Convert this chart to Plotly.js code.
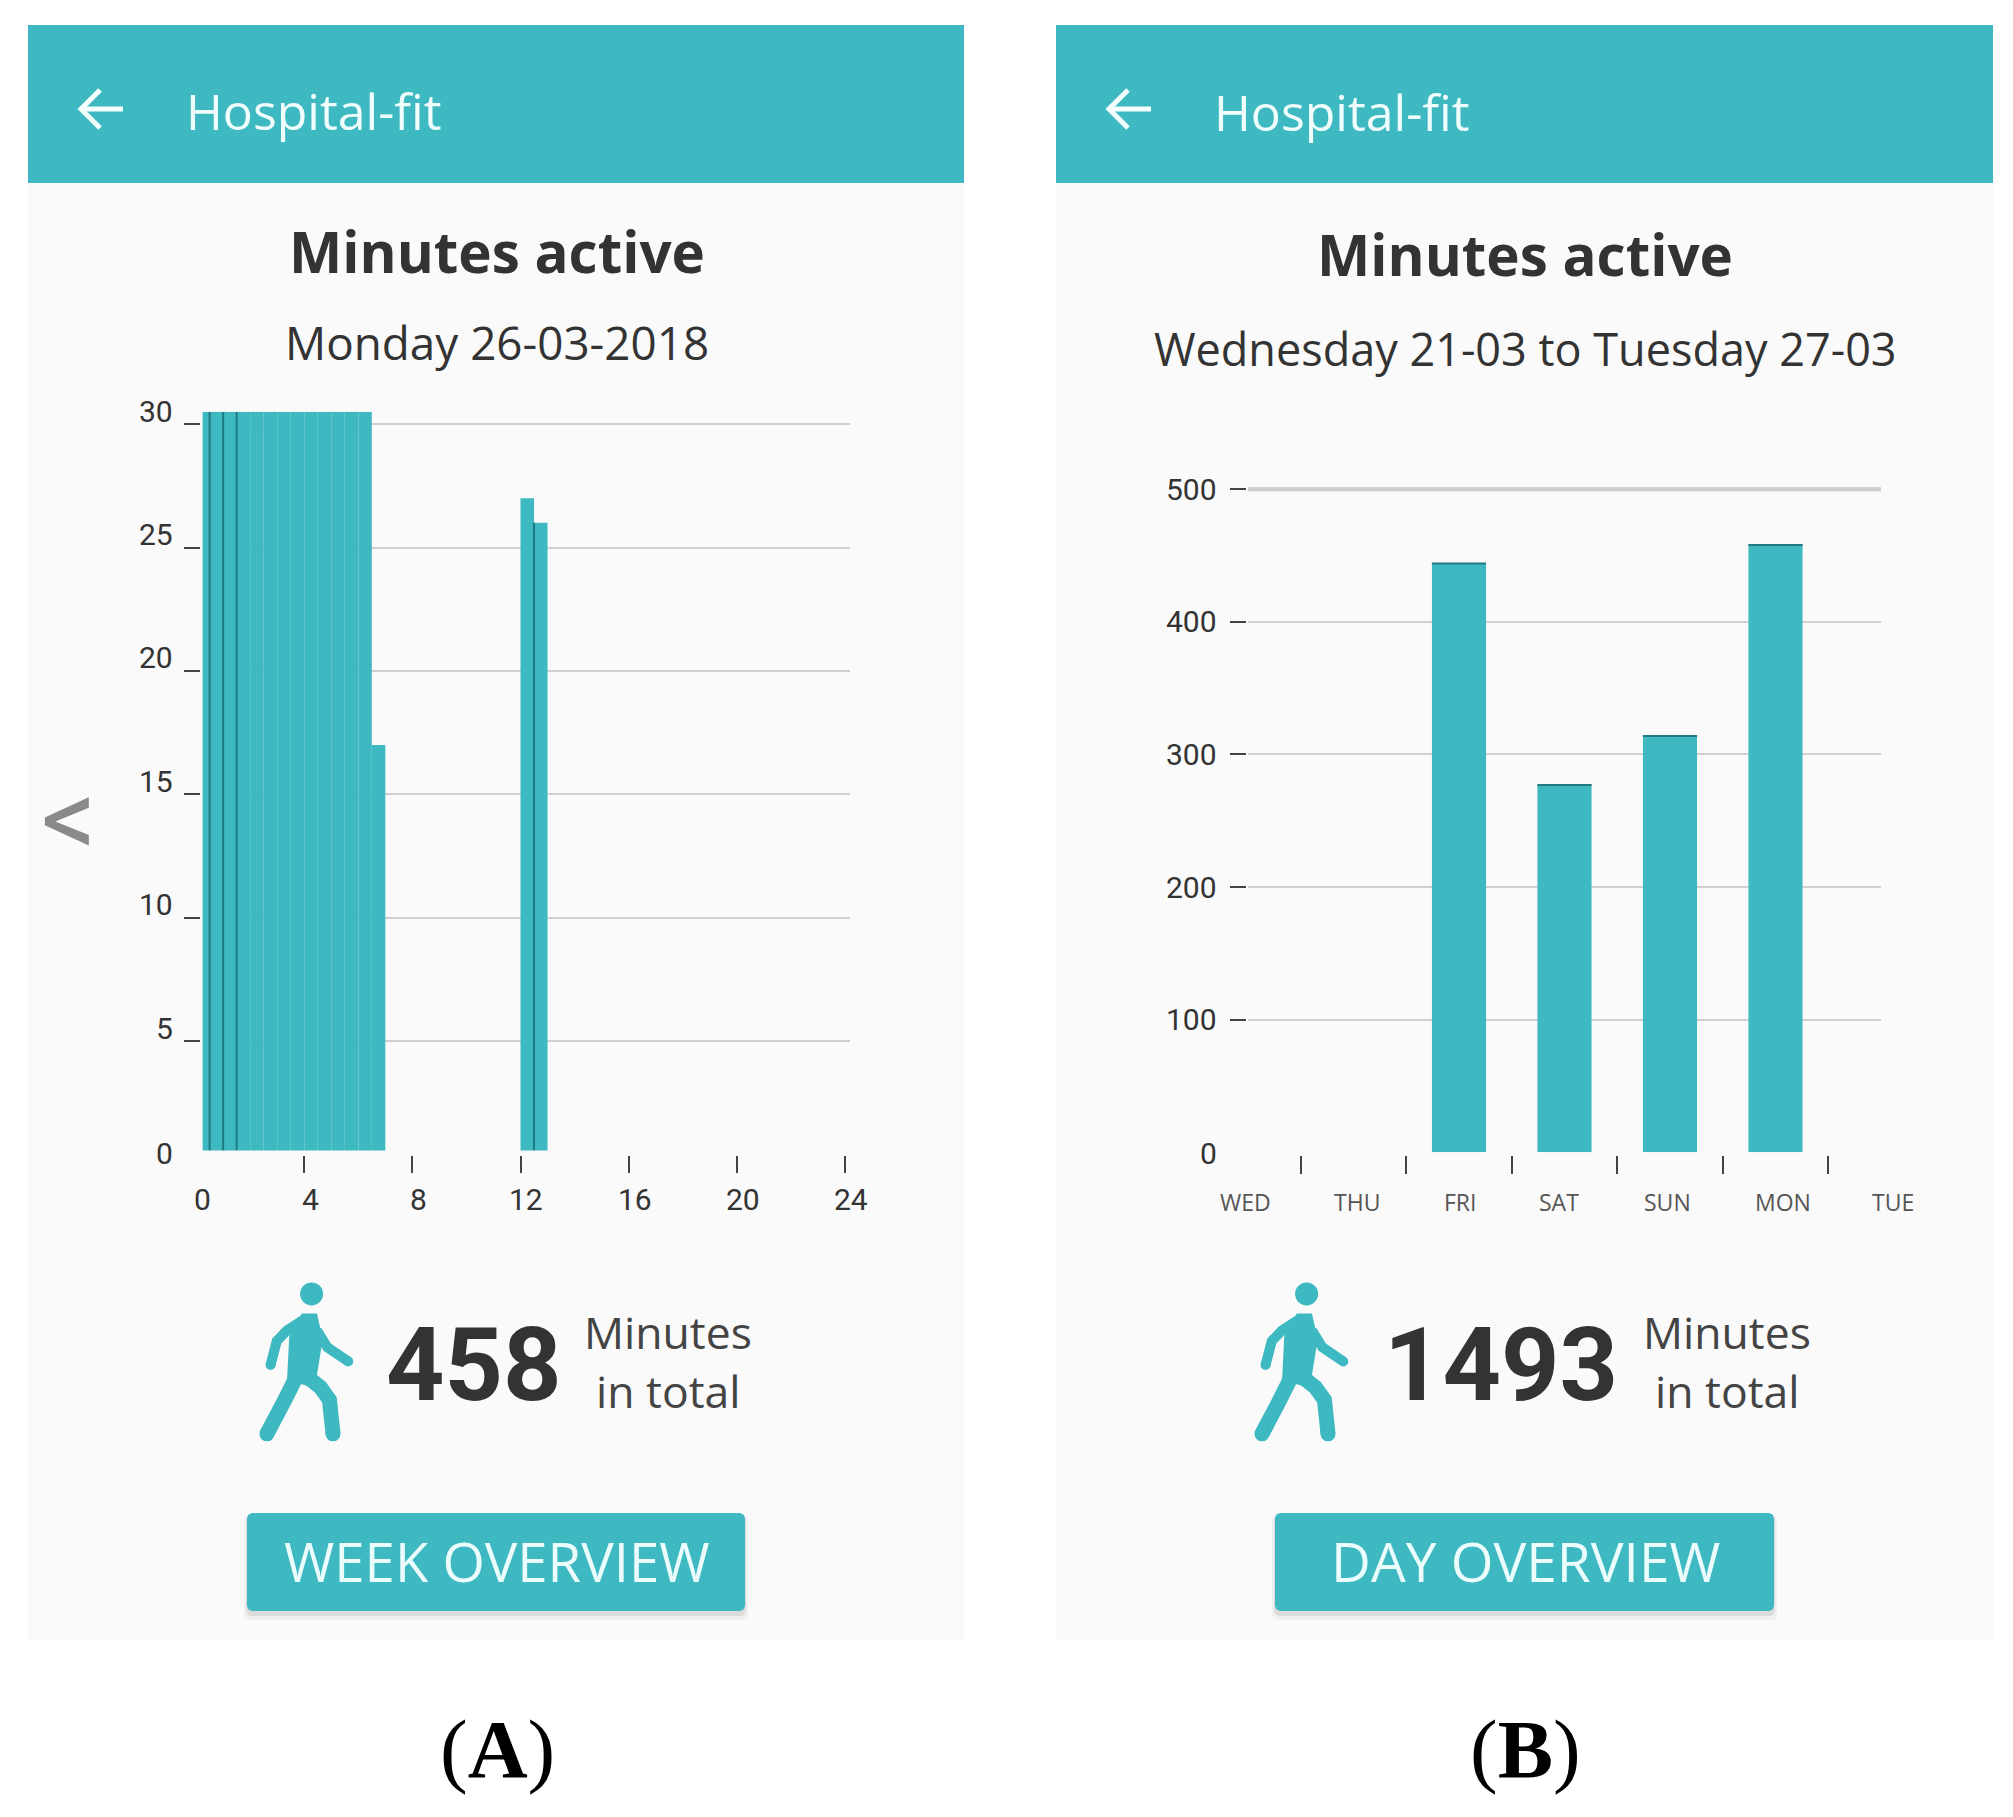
<!DOCTYPE html>
<html><head><meta charset="utf-8">
<script src="https://cdn.plot.ly/plotly-3.0.1.min.js"></script>
<style>html,body{margin:0;padding:0;background:#fff}#c{width:2013px;height:1817px}</style>
</head><body><div id="c"></div>
<script>
// ---- data ----
const hourBins = [0.25,0.75,1.25,1.75,2.25,2.75,3.25,3.75,4.25,4.75,5.25,5.75,6.25,6.75,12.25,12.75];
const minutesPerBin = [30.5,30.5,30.5,30.5,30.5,30.5,30.5,30.5,30.5,30.5,30.5,30.5,30.5,17,27,26];
const binSeams = [0.5,1,1.5,12.5];
const hourTicks = [0,4,8,12,16,20,24];
const minuteTicks = [5,10,15,20,25,30];
const days = ['WED','THU','FRI','SAT','SUN','MON','TUE'];
const dayMinutes = [0,0,444,277,314,458,0];
const weekTicks = [100,200,300,400,500];

// ---- layout constants ----
const W=2013,H=1817, TEAL='#3eb8c1', SEAM='#1f7a82', INK='#333333';
const X=p=>p/W, Y=p=>1-p/H;
const FONT='"Open Sans"', NUM='Roboto';
const A={l:202.6,r:849.5,t:411.8,b:1150.6,xr:[0.24,24.17],yr:[0.56,30.5]};
const B={l:1248,r:1881,t:476,b:1152.3,xr:[0,6],yr:[0,510]};
const ax=v=>A.l+(v-A.xr[0])*(A.r-A.l)/(A.xr[1]-A.xr[0]);
const ay=v=>A.b-(v-A.yr[0])*(A.b-A.t)/(A.yr[1]-A.yr[0]);
const dayLabelX=[1245,1356.5,1460,1559,1667,1783,1893];

const shapes=[], ann=[];
const rect=(x0,y0,x1,y1,c)=>shapes.push({type:'rect',xref:'paper',yref:'paper',x0:X(x0),x1:X(x1),y0:Y(y0),y1:Y(y1),fillcolor:c,line:{width:0},layer:'below'});
const poly=(pts,opt)=>{const d=pts.map((p,i)=>(i?'L':'M')+X(p[0])+' '+Y(p[1])).join(' ')+(opt.close?' Z':'');
  shapes.push({type:'path',xref:'paper',yref:'paper',path:d,fillcolor:opt.fill||'rgba(0,0,0,0)',line:{color:opt.color||'rgba(0,0,0,0)',width:opt.width||0},layer:opt.layer||'below'});};
const dot=(x,y,r,c)=>shapes.push({type:'circle',xref:'paper',yref:'paper',x0:X(x-r),x1:X(x+r),y0:Y(y+r),y1:Y(y-r),fillcolor:c,line:{width:0},layer:'below'});
const txt=(x,y,t,size,color,family,o)=>ann.push(Object.assign({xref:'paper',yref:'paper',x:X(x),y:Y(y),text:t,showarrow:false,xanchor:'center',yanchor:'middle',font:{size:size,color:color,family:family}},o||{}));
const chamfer=(l,t,r,b,c)=>[[l+c,t],[r-c,t],[r-c*0.3,t+c*0.3],[r,t+c],[r,b-c],[r-c*0.3,b-c*0.3],[r-c,b],[l+c,b],[l+c*0.3,b-c*0.3],[l,b-c],[l,t+c],[l+c*0.3,t+c*0.3]];

function person(dx){
  const P=(x,y)=>[200+x*0.4464+dx,1250+y*0.357];
  const c=P(250,123); dot(c[0],c[1],11.5,TEAL);
  poly([P(228,178),P(262,178),P(275,250),P(262,350),P(240,380),P(195,365),P(200,240)],{fill:TEAL,close:true});
  [[[P(232,195),P(195,225),P(172,255),P(158,322)],10],[[P(262,225),P(285,272),P(332,312)],10],
   [[P(218,350),P(190,420),P(150,515)],15],[[P(235,350),P(270,385),P(290,420),P(298,515)],15]].forEach(([pts,w])=>{
     poly(pts,{color:TEAL,width:w}); const e=pts[pts.length-1]; dot(e[0],e[1],w/2,TEAL);});
}
function panel(o){
  rect(o.l,25,o.r,1640,'#fafafa');
  rect(o.l,25,o.r,183,TEAL);
  const a=o.arrow;
  poly([[a,109],[a+42,109]],{color:'#f4ffff',width:5});
  poly([[a+19,90],[a,109],[a+19,128]],{color:'#f4ffff',width:5});
  txt(o.appX,o.appY,'Hospital-fit',50,'#f0fdfd',FONT);
  txt(o.mid,o.titleY,'<b>Minutes active</b>',56.5,INK,FONT);
  txt(o.mid,o.subY,o.sub,o.subSize,INK,FONT);
  person(o.personDx);
  txt(o.numX,1365,'<b>'+o.num+'</b>',102,INK,NUM);
  txt(o.wordX,1331.5,'Minutes',44.5,'#444',FONT);
  txt(o.wordX,1390.5,'in total',44.5,'#444',FONT);
  poly(chamfer(o.bl-3,1515,o.br+3,1620,5),{fill:'rgba(120,120,120,0.07)',close:true});
  poly(chamfer(o.bl-1,1515,o.br+1,1616,5),{fill:'rgba(120,120,120,0.16)',close:true});
  poly(chamfer(o.bl,1513,o.br,1611,5),{fill:TEAL,close:true});
  txt(o.mid,1560.5,o.btn,o.btnSize,'#eafcfc',FONT);
  txt(o.mid,1749,'(<b>'+o.letter+'</b>)',83,'#000','"Liberation Serif"');
}
panel({l:28,r:964,mid:497,arrow:81,appX:314,appY:111,titleY:251.5,sub:'Monday 26-03-2018',subY:342,subSize:45.8,personDx:0,
  num:'458',numX:474,wordX:668,btn:'WEEK OVERVIEW',btnSize:54.5,bl:247,br:745,letter:'A'});
panel({l:1056,r:1993,mid:1525,arrow:1109,appX:1342,appY:112,titleY:254.5,sub:'Wednesday 21-03 to Tuesday 27-03',subY:348,subSize:45,personDx:995,
  num:'1493',numX:1501,wordX:1727,btn:'DAY OVERVIEW',btnSize:55,bl:1275,br:1774,letter:'B'});

// "<" pager
txt(68.5,818,'<',110,'#8a8a8a',NUM);

// panel A tick labels
hourTicks.forEach(h=>txt(ax(h)+5.9,1199.5,String(h),30,INK,NUM));
minuteTicks.forEach(m=>txt(174.5,ay(m)-13,String(m),30,INK,NUM,{xanchor:'right'}));
txt(174.5,1153,'0',30,INK,NUM,{xanchor:'right'});
// panel B tick labels
days.forEach((d,i)=>txt(dayLabelX[i],1201.5,d,23,'#555',FONT));
weekTicks.forEach(v=>txt(1219,B.b-(v/B.yr[1])*(B.b-B.t),String(v),30,INK,NUM,{xanchor:'right'}));
txt(1219,1153,'0',30,INK,NUM,{xanchor:'right'});

// seams between bins, and top edges of the day bars, in data coordinates
binSeams.forEach(s=>{const i=hourBins.findIndex(h=>h>s);
  shapes.push({type:'line',xref:'x',yref:'y',x0:s,x1:s,y0:A.yr[0],y1:Math.min(minutesPerBin[i],minutesPerBin[i-1]),line:{color:SEAM,width:2}});});
dayMinutes.forEach((v,i)=>{if(v>0)shapes.push({type:'line',xref:'x2',yref:'y2',x0:i-0.257,x1:i+0.257,y0:v,y1:v,line:{color:SEAM,width:2}});});
// heavier top gridline of the week chart
const topTick=weekTicks[weekTicks.length-1];
shapes.push({type:'line',xref:'x2',yref:'y2',x0:B.xr[0],x1:B.xr[1],y0:topTick,y1:topTick,line:{color:'#c9c9c9',width:4},layer:'below'});

const traces=[
 {type:'bar',x:hourBins,y:minutesPerBin,width:0.5,xaxis:'x',yaxis:'y',marker:{color:TEAL,line:{width:0}},hoverinfo:'x+y'},
 {type:'bar',x:days,y:dayMinutes,xaxis:'x2',yaxis:'y2',marker:{color:TEAL,line:{width:0}},hoverinfo:'x+y'}
];
const tickStyle={ticks:'outside',tickcolor:'#444',tickwidth:2,showticklabels:false,zeroline:false,showline:false};
const layout={width:W,height:H,margin:{l:0,r:0,t:0,b:0},paper_bgcolor:'#ffffff',plot_bgcolor:'rgba(0,0,0,0)',showlegend:false,bargap:0.487,
 xaxis:Object.assign({},tickStyle,{domain:[X(A.l),X(A.r)],range:A.xr,tickmode:'array',tickvals:hourTicks,ticklen:17,showgrid:false,anchor:'free',position:Y(1154.5)}),
 yaxis:Object.assign({},tickStyle,{domain:[Y(A.b),Y(A.t)],range:A.yr,tickmode:'array',tickvals:minuteTicks,ticklen:16,showgrid:true,gridcolor:'#cfcfcf',gridwidth:2,anchor:'free',position:X(199.8)}),
 xaxis2:Object.assign({},tickStyle,{domain:[X(B.l),X(B.r)],range:B.xr,type:'category',categoryorder:'array',categoryarray:days,tickson:'boundaries',ticklen:18,showgrid:false,anchor:'free',position:Y(1154.5)}),
 yaxis2:Object.assign({},tickStyle,{domain:[Y(B.b),Y(B.t)],range:B.yr,tickmode:'array',tickvals:weekTicks,ticklen:16,showgrid:true,gridcolor:'#cfcfcf',gridwidth:2,anchor:'free',position:X(1246)}),
 shapes:shapes,annotations:ann};
Plotly.newPlot('c',traces,layout,{displayModeBar:false,staticPlot:true});
</script></body></html>
